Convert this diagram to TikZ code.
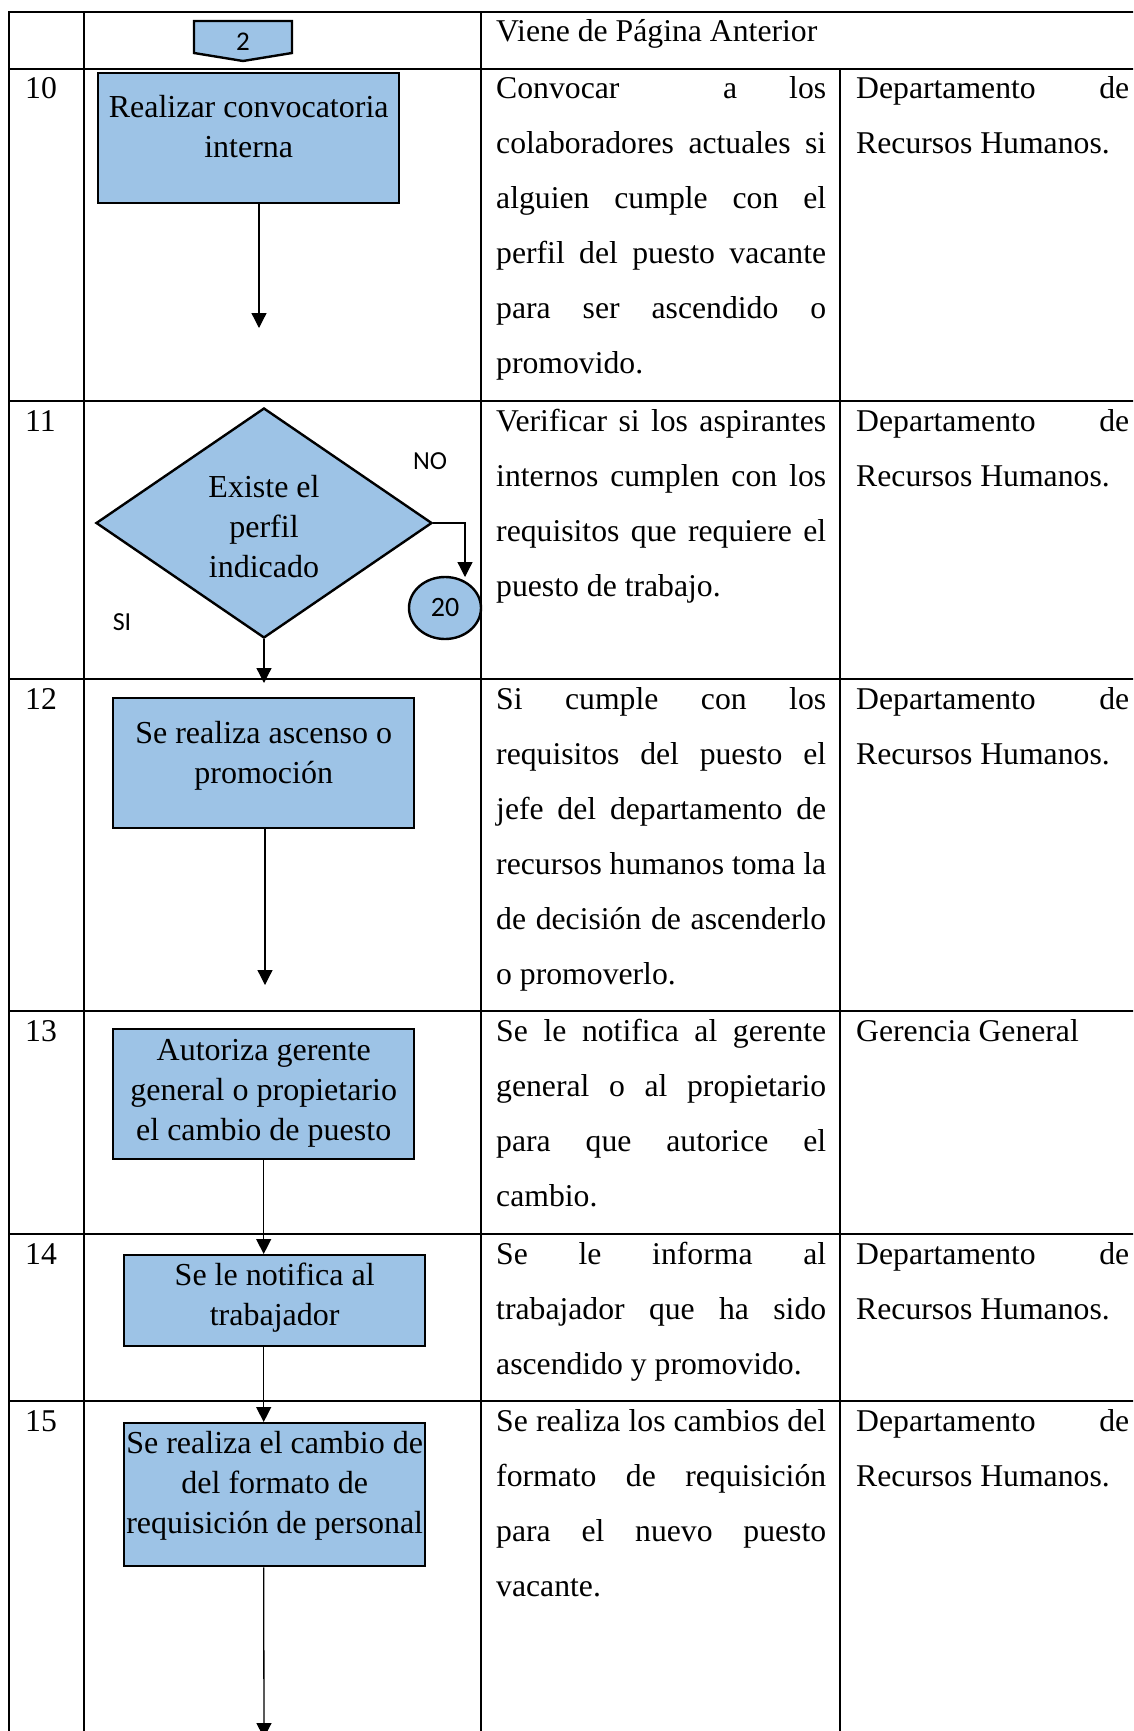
\documentclass[tikz,border=0pt]{standalone}
\usepackage{fontspec}
\setmainfont{Liberation Serif}
\newfontfamily\calib{Carlito}
\usetikzlibrary{shapes.geometric,arrows.meta}
\definecolor{boxblue}{HTML}{9DC3E6}
% one fully justified line of a table cell
\newcommand\jl[1]{\makebox[\hsize][s]{#1}}
\begin{document}
\begin{tikzpicture}[x=1pt,y=-1pt,
  grid/.style={line width=2.6pt, line cap=rect},
  proc/.style={draw=black, line width=2.4pt, fill=boxblue, inner sep=0pt,
    align=flush center, anchor=north west, text width=301pt,
    font=\fontsize{32}{40}\selectfont},
  decision/.style={diamond, draw=black, line width=2.4pt, fill=boxblue,
    inner sep=0pt, aspect=1.46, minimum width=336pt, minimum height=230pt,
    align=flush center, font=\fontsize{32}{40}\selectfont},
  arr/.style={line width=1.3pt, -{Triangle[width=15pt,length=15pt]}},
  body/.style={inner sep=0pt, anchor=base west, align=flush left,
    font=\fontsize{31.7}{55}\selectfont},
  desc/.style={body, text width=330pt},
  resp/.style={body, text width=273pt},
  num/.style={inner sep=0pt, anchor=base west, font=\fontsize{31.7}{40}\selectfont},
  lbl/.style={inner sep=0pt, font=\calib\fontsize{26}{30}\selectfont},
]
\useasboundingbox (0,0) rectangle (1133,1731);
\clip (0,0) rectangle (1133,1731);
\fill[white] (0,0) rectangle (1133,1731);

% table grid
\foreach \yy in {12,69,401,679,1011,1234,1401}
  \draw[grid] (9,\yy) -- (1140,\yy);
\foreach \xx in {9,84,481}
  \draw[grid] (\xx,12) -- (\xx,1740);
\draw[grid] (840,69) -- (840,1740);

% step numbers
\node[num] (n10) at (25,99) {10};
\node[num] (n11) at (25,431) {11};
\node[num] (n12) at (25,709) {12};
\node[num] (n13) at (25,1041) {13};
\node[num] (n14) at (25,1264) {14};
\node[num] (n15) at (25,1431) {15};

% off-page connector
\draw[draw=black, line width=2.4pt, fill=boxblue, line join=miter]
  (194,21) -- (292,21) -- (292,53) -- (243,61) -- (194,53) -- cycle;
\node[lbl, font=\calib\fontsize{27}{30}\selectfont] (p2) at (243,41.5) {2};

% flowchart
\node[proc, text height=44pt, text depth=86pt] (b10) at (97,72)
  {Realizar convocatoria\\interna};
\coordinate (e10) at (259,328);
\draw[arr] (b10.south -| e10) -- (e10);

\node[decision] (d11) at (264,523) {\rule{0pt}{30pt}Existe el\\perfil\\indicado};
\node[lbl] (no) at (430,461) {NO};
\node[lbl] (si) at (122,622) {SI};
\node[ellipse, draw=black, line width=2.4pt, fill=boxblue, inner sep=0pt,
  minimum width=72pt, minimum height=62pt,
  font=\calib\fontsize{28}{30}\selectfont] (c20) at (445,608) {20};
\coordinate (n20) at (465,577);
\draw[arr] (d11.east) -| (n20);
\coordinate (e11) at (264,683);
\draw[arr] (d11.south) -- (e11);

\node[proc, text height=45pt, text depth=85pt] (b12) at (112,697)
  {Se realiza ascenso o\\promoción};
\coordinate (e12) at (265,985);
\draw[arr] (b12.south -| e12) -- (e12);

\node[proc, text height=31pt, text depth=99pt] (b13) at (112,1028)
  {Autoriza gerente\\general o propietario\\el cambio de puesto};
\node[proc, text height=30pt, text depth=61pt] (b14) at (123,1254)
  {Se le notifica al\\trabajador};
\node[proc, text height=30pt, text depth=113pt] (b15) at (123,1422)
  {Se realiza el cambio de\\del formato de\\requisición de personal};
\draw[arr] (b13.south) -- (b13.south |- b14.north);
\draw[arr] (b13.south |- b14.south) -- (b13.south |- b15.north);
\coordinate (e15) at (264,1738);
\draw[arr] (b13.south |- b15.south) -- (e15);

% descriptions
\node[body] (hdr) at (496,42) {Viene de Página Anterior};

\node[desc] (t10) at (496,99) {\jl{Convocar\ \ a los}\\\jl{colaboradores actuales si}\\
  \jl{alguien cumple con el}\\\jl{perfil del puesto vacante}\\
  \jl{para ser ascendido o}\\promovido.};
\node[desc] (t11) at (496,431) {\jl{Verificar si los aspirantes}\\
  \jl{internos cumplen con los}\\\jl{requisitos que requiere el}\\puesto de trabajo.};
\node[desc] (t12) at (496,709) {\jl{Si cumple con los}\\\jl{requisitos del puesto el}\\
  \jl{jefe del departamento de}\\\jl{recursos humanos toma la}\\
  \jl{de decisión de ascenderlo}\\o promoverlo.};
\node[desc] (t13) at (496,1041) {\jl{Se le notifica al gerente}\\
  \jl{general o al propietario}\\\jl{para que autorice el}\\cambio.};
\node[desc] (t14) at (496,1264) {\jl{Se le informa al}\\
  \jl{trabajador que ha sido}\\ascendido y promovido.};
\node[desc] (t15) at (496,1431) {\jl{Se realiza los cambios del}\\
  \jl{formato de requisición}\\\jl{para el nuevo puesto}\\vacante.};

% responsible units
\node[resp] (r10) at (856,99) {\jl{Departamento de}\\Recursos Humanos.};
\node[resp] (r11) at (856,431) {\jl{Departamento de}\\Recursos Humanos.};
\node[resp] (r12) at (856,709) {\jl{Departamento de}\\Recursos Humanos.};
\node[resp] (r13) at (856,1041) {Gerencia General};
\node[resp] (r14) at (856,1264) {\jl{Departamento de}\\Recursos Humanos.};
\node[resp] (r15) at (856,1431) {\jl{Departamento de}\\Recursos Humanos.};
\end{tikzpicture}
\end{document}
